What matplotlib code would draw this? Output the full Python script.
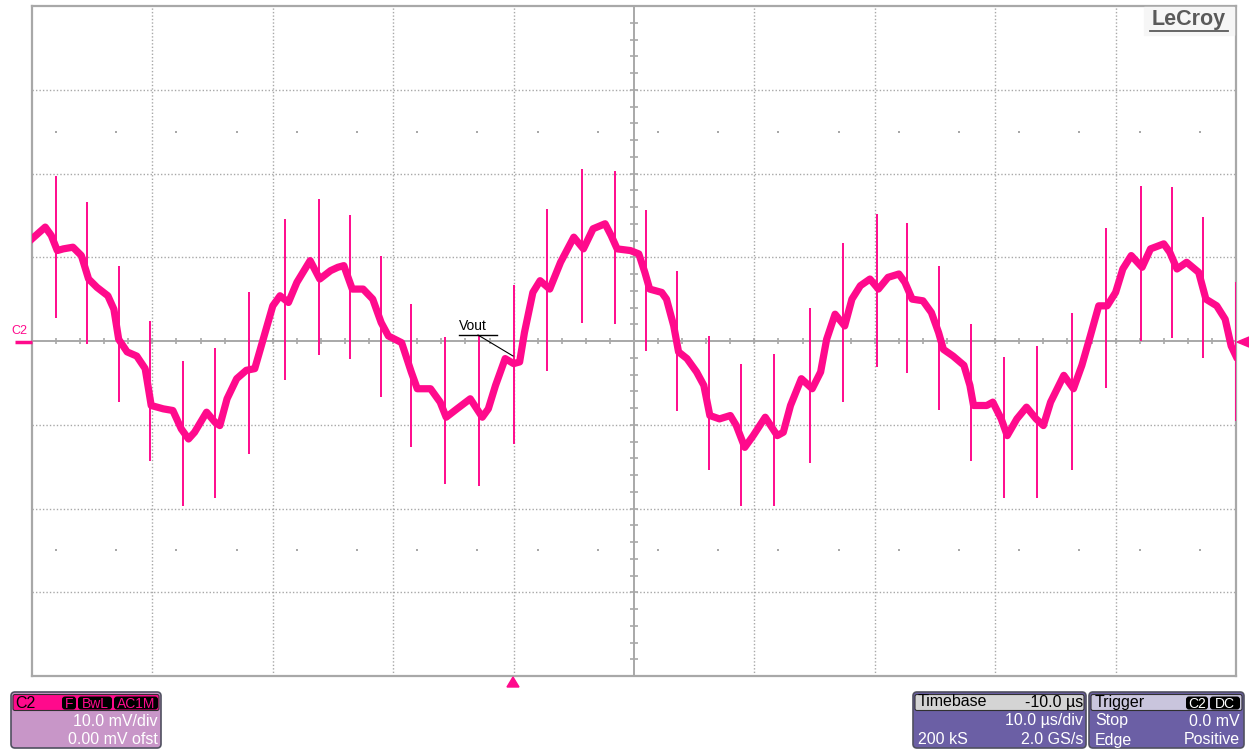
import numpy as np
import matplotlib.pyplot as plt
from matplotlib.patches import FancyBboxPatch, Polygon, Rectangle

plt.rcParams['font.family'] = ['Liberation Sans', 'DejaVu Sans']

# Vout trace: time in us (trigger at 0), amplitude in mV
trace_t = [-40.0, -38.9, -38.4, -37.9, -37.4, -36.6, -35.9, -35.3, -34.6, -33.7,
           -33.2, -32.8, -32.1, -31.3, -30.6, -30.1, -29.1, -28.3, -27.6, -27.0,
           -26.5, -25.5, -24.8, -24.4, -23.8, -23.0, -22.2, -21.5, -20.8, -20.0,
           -19.4, -18.7, -18.0, -16.9, -16.1, -15.2, -14.6, -14.1, -13.4, -12.5,
           -11.7, -11.0, -10.4, -9.3, -8.5, -8.0, -6.9, -6.1, -5.6, -4.7,
           -3.6, -2.6, -2.1, -1.5, -0.7, 0.0, 0.5, 0.9, 1.6, 2.2,
           3.0, 3.9, 5.0, 5.8, 6.6, 7.6, 8.1, 8.6, 9.7, 10.4,
           10.9, 11.3, 12.3, 12.7, 13.3, 13.7, 14.4, 15.2, 15.8, 16.3,
           17.1, 18.0, 18.5, 19.2, 19.9, 20.9, 21.9, 22.4, 23.0, 23.9,
           24.8, 25.5, 26.0, 26.7, 27.5, 28.1, 28.8, 29.6, 30.3, 31.1,
           32.0, 32.5, 33.1, 34.0, 34.7, 35.3, 35.7, 36.5, 37.4, 37.9,
           38.2, 39.3, 39.8, 40.5, 41.0, 41.8, 42.6, 43.4, 44.0, 44.6,
           45.7, 46.5, 47.2, 47.9, 48.6, 49.3, 50.0, 50.6, 51.3, 52.2,
           52.9, 54.0, 54.5, 55.1, 55.9, 56.9, 57.5, 58.4, 59.1, 59.6, 60.0]
trace_v = [12.2, 13.6, 12.6, 10.8, 11.0, 11.2, 10.2, 7.4, 6.4, 5.4,
           3.8, 0.2, -1.3, -1.8, -3.3, -7.7, -8.1, -8.3, -10.5, -11.7,
           -10.9, -8.5, -9.7, -10.1, -6.9, -4.5, -3.5, -3.3, 0.2, 4.2,
           5.4, 4.6, 7.0, 9.6, 7.4, 8.4, 8.8, 9.0, 6.2, 6.2,
           5.0, 2.2, 0.6, -0.2, -3.7, -5.7, -5.7, -7.3, -9.1, -8.1,
           -6.9, -9.1, -8.1, -5.3, -2.1, -2.7, -2.5, 1.0, 5.8, 7.2,
           6.2, 9.4, 12.4, 11.0, 13.4, 14.0, 12.6, 11.0, 10.8, 10.4,
           8.2, 6.2, 5.8, 5.0, 1.8, -1.3, -2.1, -3.7, -5.3, -8.9,
           -9.3, -8.9, -10.1, -12.7, -11.3, -9.1, -11.3, -10.9, -7.7, -4.5,
           -5.7, -3.7, 0.2, 3.2, 1.8, 5.0, 6.6, 7.4, 6.2, 7.6,
           8.0, 7.0, 5.0, 4.8, 3.4, 1.0, -1.0, -1.8, -2.9, -5.3,
           -7.7, -7.7, -7.3, -9.3, -11.3, -9.3, -7.9, -9.3, -10.1, -7.3,
           -4.1, -5.7, -2.9, 0.6, 4.2, 4.2, 5.8, 8.6, 10.2, 8.8,
           11.0, 11.6, 10.6, 8.6, 9.4, 8.2, 5.0, 4.2, 2.6, -0.6, -1.8]

# switching spikes riding on the trace (time, top, bottom)
spike_t = [-38.0, -35.4, -32.8, -30.2, -27.5, -24.8, -22.0, -19.0, -16.2, -13.6,
           -11.0, -8.5, -5.7, -2.9, 0.0, 2.8, 5.7, 8.4, 11.0, 13.6,
           16.2, 18.9, 21.6, 24.6, 27.4, 30.2, 32.7, 35.3, 38.0, 40.7,
           43.5, 46.4, 49.2, 52.1, 54.7, 57.3, 60.0]
spike_top = [19.7, 16.6, 9.0, 2.4, -2.4, -0.8, 5.9, 14.6, 17.0, 15.0,
             10.2, 4.4, 0.5, 0.6, 6.7, 15.8, 20.5, 20.3, 15.6, 8.4,
             0.6, -2.7, -1.6, 4.0, 11.7, 15.2, 14.1, 8.9, 2.0, -1.9,
             -0.6, 3.4, 13.5, 18.5, 18.4, 14.8, 7.1]
spike_bot = [2.7, -0.4, -7.3, -14.3, -19.7, -18.7, -13.5, -4.7, -1.7, -2.1,
             -6.7, -12.6, -17.1, -17.3, -12.3, -3.6, 2.2, 2.0, -1.2, -8.4,
             -15.4, -19.7, -19.7, -14.6, -7.3, -3.1, -3.8, -8.2, -14.3, -18.7,
             -18.7, -15.4, -5.6, 0.0, 0.4, -2.0, -9.5]

TRACE = '#ff0a8c'
GRID = '#a8a8a8'
PURPLE = '#6b5fa5'

fig = plt.figure(figsize=(12.49, 7.5), dpi=100)

# scope screen: 10 x 8 divisions, 10 us/div and 10 mV/div
ax = fig.add_axes([32 / 1249, 74 / 750, 1204 / 1249, 670 / 750])
ax.set_xlim(-40, 60)
ax.set_ylim(-40, 40)
ax.set_xticks([])
ax.set_yticks([])
for s in ax.spines.values():
    s.set_color(GRID)
    s.set_linewidth(1.6)

for t in range(-30, 60, 10):
    if t != 10:
        ax.axvline(t, color=GRID, lw=1.0, ls=(0, (1, 1.5)))
for v in range(-30, 40, 10):
    if v != 0:
        ax.axhline(v, color=GRID, lw=1.0, ls=(0, (1, 1.5)))
ax.axhline(0, color=GRID, lw=1.4)
ax.axvline(10, color=GRID, lw=1.4)

# 0.2 div graticule ticks on the centre lines
ax.vlines(np.arange(-40, 61, 2), -0.4, 0.4, color=GRID, lw=1.2)
ax.hlines(np.arange(-40, 41, 2), 9.65, 10.35, color=GRID, lw=1.2)

# sparse half-division dots at +/-2.5 div
dot_t = np.arange(-38, 60, 5)
for v in (25, -25):
    ax.scatter(dot_t, np.full(len(dot_t), v), s=2, color=GRID, marker='s', lw=0)

ax.vlines(spike_t, spike_bot, spike_top, color=TRACE, lw=1.4, zorder=3)
ax.plot(trace_t, trace_v, color=TRACE, lw=5.2, solid_joinstyle='round', zorder=4)

# overlay in screen pixels for markers, labels and the info boxes
ov = fig.add_axes([0, 0, 1, 1], zorder=5)
ov.set_xlim(0, 1249)
ov.set_ylim(750, 0)
ov.axis('off')
ov.patch.set_alpha(0)

# channel marker and arrows
ov.plot([15, 32], [342, 342], color=TRACE, lw=2.5, solid_capstyle='butt')
ov.text(11, 337, 'C2', color=TRACE, fontsize=9, va='bottom', ha='left')
ov.add_patch(Polygon([(1237, 342), (1249, 337), (1249, 347)], color=TRACE))
ov.add_patch(Polygon([(513, 677), (507, 687), (519, 687)], color=TRACE))

# trace label
ov.text(459, 333, 'Vout', fontsize=10, va='bottom', ha='left', color='black')
ov.plot([459, 497], [334.5, 334.5], color='black', lw=1)
ov.plot([478, 513], [335, 356], color='black', lw=0.8)

# logo
ov.add_patch(Rectangle((1144, 7), 90, 28, color='#f6f6f6', zorder=1))
ov.text(1189, 20, 'LeCroy', fontsize=15.5, fontweight='bold', color='#5a5a5a',
        ha='center', va='center', zorder=2)
ov.plot([1150, 1228], [31, 31], color='#5a5a5a', lw=1.3, zorder=2)


def box(x0, x1, head_color, body_color):
    ov.add_patch(FancyBboxPatch((x0, 692), x1 - x0, 56,
                                boxstyle='round,pad=0,rounding_size=4',
                                fc=body_color, ec='#505060', lw=1.2))
    ov.add_patch(FancyBboxPatch((x0 + 2, 694.5), x1 - x0 - 4, 16,
                                boxstyle='round,pad=0,rounding_size=2',
                                fc=head_color, ec='#303030', lw=0.8))


def badge(x0, x1, label, text_color):
    ov.add_patch(FancyBboxPatch((x0, 696.5), x1 - x0, 13,
                                boxstyle='round,pad=0,rounding_size=3',
                                fc='black', ec='none'))
    ov.text((x0 + x1) / 2, 703.5, label, color=text_color, fontsize=10,
            ha='center', va='center')


fs = 11.5
# channel box
box(11, 161, TRACE, '#c896c8')
ov.text(15, 703, 'C2', fontsize=fs, va='center', color='black')
badge(62, 76, 'F', TRACE)
badge(78, 112, 'BwL', TRACE)
badge(114, 158, 'AC1M', TRACE)
ov.text(158, 721, '10.0 mV/div', fontsize=fs, va='center', ha='right', color='white')
ov.text(158, 740, '0.00 mV ofst', fontsize=fs, va='center', ha='right', color='white')

# timebase box
box(913, 1086, '#d4d4d4', PURPLE)
ov.text(918, 702, 'Timebase', fontsize=fs, va='center', color='black')
ov.text(1083, 702, '-10.0 µs', fontsize=fs, va='center', ha='right', color='black')
ov.text(1083, 721, '10.0 µs/div', fontsize=fs, va='center', ha='right', color='white')
ov.text(918, 740, '200 kS', fontsize=fs, va='center', color='white')
ov.text(1083, 740, '2.0 GS/s', fontsize=fs, va='center', ha='right', color='white')

# trigger box
box(1089, 1244, '#c9c5dd', PURPLE)
ov.text(1095, 702, 'Trigger', fontsize=fs, va='center', color='black')
badge(1186, 1208, 'C2', 'white')
badge(1210, 1240, 'DC', 'white')
ov.text(1095, 721, 'Stop', fontsize=fs, va='center', color='white')
ov.text(1240, 721, '0.0 mV', fontsize=fs, va='center', ha='right', color='white')
ov.text(1095, 740, 'Edge', fontsize=fs, va='center', color='white')
ov.text(1240, 740, 'Positive', fontsize=fs, va='center', ha='right', color='white')

fig.savefig('out.png', dpi=100)
